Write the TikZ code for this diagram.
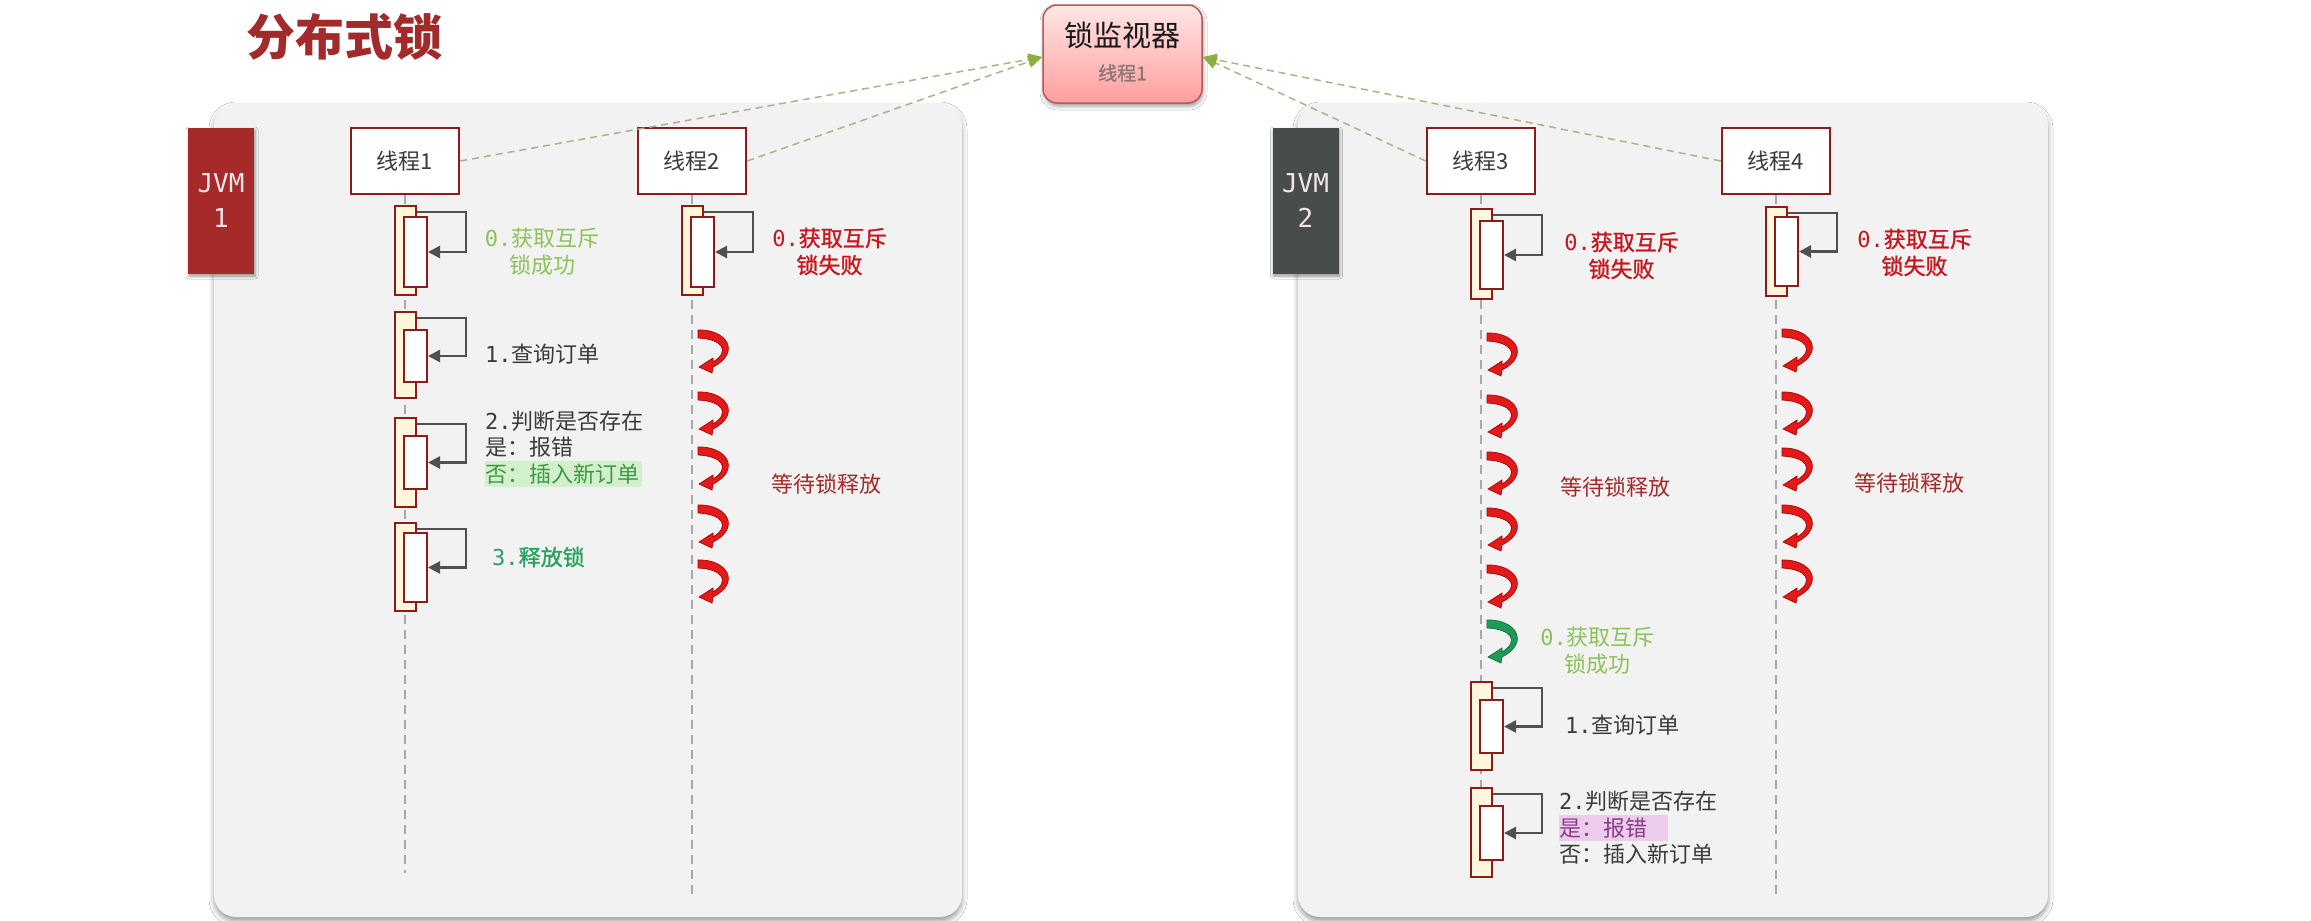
\documentclass[tikz,border=0pt]{standalone}
\usepackage{fontspec}
\setmainfont{Noto Sans CJK SC}
\newfontfamily\monofam{DejaVu Sans Mono}
\newfontfamily\medfam[FakeBold=1.2]{Noto Sans CJK SC}
\usetikzlibrary{arrows.meta,shadows.blur,calc}
\definecolor{titlered}{HTML}{A32A2A}
\definecolor{jvmred}{HTML}{A62A2A}
\definecolor{jvmgray}{HTML}{484C4B}
\definecolor{jvmtxt}{HTML}{F2E6E6}
\definecolor{tbord}{HTML}{8E1B1B}
\definecolor{cream}{HTML}{FFF6DC}
\definecolor{arrgray}{HTML}{505050}
\definecolor{lgreen}{HTML}{8DC25A}
\definecolor{redtxt}{HTML}{C8161E}
\definecolor{graytxt}{HTML}{3A3A3A}
\definecolor{tealtxt}{HTML}{2BA163}
\definecolor{waittxt}{HTML}{A32A2A}
\definecolor{hlgreen}{HTML}{D2F0CE}
\definecolor{hlgreentxt}{HTML}{3E9A3E}
\definecolor{hlpink}{HTML}{EDCBEA}
\definecolor{pinktxt}{HTML}{8A3C8A}
\definecolor{arrowgreen}{HTML}{8CB040}
\definecolor{dashcol}{HTML}{A9B586}
\definecolor{panelbg}{HTML}{F2F2F2}
\definecolor{redarr}{HTML}{E31A1A}
\definecolor{redarrdark}{HTML}{B00000}
\definecolor{greenarr}{HTML}{1F9A55}
\definecolor{greenarrdark}{HTML}{147040}
\definecolor{montop}{HTML}{FFE6E6}
\definecolor{monbot}{HTML}{FF9E9E}
\definecolor{monbord}{HTML}{B35A5A}
\definecolor{mongray}{HTML}{8C7676}
\definecolor{lifecol}{HTML}{A8A8A8}
\begin{document}
\begin{tikzpicture}[x=1pt,y=-1pt,
  panelbox/.style={fill=panelbg, rounded corners=22pt, inner sep=0,
    blur shadow={shadow xshift=0pt, shadow yshift=-4pt, shadow blur radius=5pt}},
  jvmbox/.style={minimum width=66pt, minimum height=146pt, inner sep=0, align=center,
    font=\monofam\fontsize{26}{35}\selectfont, text=jvmtxt,
    blur shadow={shadow xshift=1pt, shadow yshift=-2pt, shadow blur radius=3pt}},
  threadbox/.style={draw=tbord, line width=2.5pt, fill=white, minimum width=108pt,
    minimum height=66pt, inner sep=0, font=\fontsize{22}{26}\selectfont, text=graytxt},
  monbox/.style={rounded corners=14pt, top color=montop, bottom color=monbot, draw=monbord,
    line width=1.5pt, minimum width=159pt, minimum height=98pt, inner sep=0,
    blur shadow={shadow xshift=1pt, shadow yshift=-3pt, shadow blur radius=4pt}},
  actout/.style={draw=tbord, fill=cream, line width=2pt, minimum width=21pt, inner sep=0},
  actin/.style={draw=tbord, fill=white, line width=2pt, minimum width=23pt, inner sep=0},
  selfarr/.style={draw=arrgray, line width=2.5pt, -{Triangle[length=12pt,width=12pt]}},
  lifeline/.style={draw=lifecol, line width=1.5pt, dash pattern=on 9pt off 6pt},
  monarrow/.style={draw=dashcol, line width=1.5pt, dash pattern=on 7pt off 5pt,
    -{Triangle[length=14pt,width=12pt,color=arrowgreen]}},
  lbl/.style={inner sep=0, font=\fontsize{22}{27}\selectfont},
  lblc/.style={inner sep=0, align=center, font=\fontsize{22}{27}\selectfont},
  lblcb/.style={inner sep=0, align=center, font=\medfam\fontsize{22}{27}\selectfont},
  redbend/.style={fill=redarr, draw=redarrdark, line width=0.7pt},
  greenbend/.style={fill=greenarr, draw=greenarrdark, line width=0.7pt},
  pics/bend/.style={code={\path[pic actions] (2,0) .. controls (30,-1) and (46,22) .. (17,37)
     -- (16,43) -- (3,37) -- (17,28) -- (17,32)
     .. controls (35,21) and (26,9) .. (2,8) -- cycle;}}
]
\newcommand\actbox[6]{%
  \node[actout, minimum height=#4pt] (#1o) at (#2,#3) {};
  \node[actin, minimum height=#6pt] (#1i) at ({#2+10.5},#5) {};
  \draw[selfarr] ($(#1o.north east)+(0,7)$) -- ++(49.5,0) |- (#1i.east);
}
\useasboundingbox (0,0) rectangle (2311,921);
\fill[white] (0,0) rectangle (2311,921);

% panels
\node[panelbox, minimum width=748pt, minimum height=814pt] (p1) at (588,510) {};
\node[panelbox, minimum width=750pt, minimum height=814pt] (p2) at (1673,510) {};

% title
\node[inner sep=0, font=\fontsize{49}{55}\selectfont\bfseries, text=titlered] (title) at (344,37) {分布式锁};

% JVM boxes
\node[jvmbox, fill=jvmred] (jvm1) at (221,201) {JVM\\1};
\node[jvmbox, fill=jvmgray] (jvm2) at (1305.5,201) {JVM\\2};

% threads
\node[threadbox] (t1) at (405,161) {线程1};
\node[threadbox] (t2) at (692,161) {线程2};
\node[threadbox] (t3) at (1481,161) {线程3};
\node[threadbox] (t4) at (1776,161) {线程4};

% lock monitor
\node[monbox] (mon) at (1122.5,54) {};
\node[inner sep=0, font=\fontsize{29}{34}\selectfont, text=black!90] (monA) at (1122.5,35) {锁监视器};
\node[inner sep=0, font=\medfam\fontsize{19}{23}\selectfont, text=mongray] (monB) at (1122.5,73) {线程1};

% connectors to monitor
\draw[monarrow] (t1.east) -- ([yshift=-3pt]mon.west);
\draw[monarrow] (t2.east) -- ([yshift=-3pt]mon.west);
\draw[monarrow] (t3.west) -- ([yshift=-3pt]mon.east);
\draw[monarrow] (t4.west) -- ([yshift=-3pt]mon.east);

% lifelines
\coordinate (e1) at (405,873);
\coordinate (e2) at (692,896);
\coordinate (e3) at (1481,878);
\coordinate (e4) at (1776,900);
\draw[lifeline] (t1.south) -- (e1);
\draw[lifeline] (t2.south) -- (e2);
\draw[lifeline] (t3.south) -- (e3);
\draw[lifeline] (t4.south) -- (e4);

% activations
\actbox{a10}{405}{250.5}{89}{252}{70}
\actbox{a11}{405}{355}{86}{356}{52}
\actbox{a12}{405}{462.5}{89}{462.5}{53}
\actbox{a13}{405}{567}{88}{567.5}{69}
\actbox{a20}{692}{250.5}{89}{252}{70}
\actbox{a30}{1481}{254}{90}{255}{68}
\actbox{a31}{1481}{726}{88}{726.5}{53}
\actbox{a32}{1481}{832.5}{89}{833}{54}
\actbox{a40}{1776}{251.5}{89}{251.5}{69}

% waiting arrows
\foreach \yy in {330,392,447,505,560} {\pic[redbend] at (696,\yy) {bend};}
\foreach \yy in {333,395,452,508,565} {\pic[redbend] at (1485,\yy) {bend};}
\pic[greenbend] at (1485,620) {bend};
\foreach \yy in {329,392,448,505,560} {\pic[redbend] at (1780,\yy) {bend};}

% labels JVM1
\node[lblc, text=lgreen] (l10) at (542,251.5) {{\monofam 0.}获取互斥\\锁成功};
\node[lbl, text=graytxt, anchor=west] (l11) at (485,354) {{\monofam 1.}查询订单};
\node[lbl, text=graytxt, anchor=west] (l12a) at (485,421) {{\monofam 2.}判断是否存在};
\node[lbl, text=graytxt, anchor=west] (l12b) at (485,447) {是：报错};
\node[lbl, text=hlgreentxt, anchor=west, fill=hlgreen, inner ysep=3pt] (l12c) at (485,474) {否：插入新订单\rule{3pt}{0pt}};
\node[lbl, text=tealtxt, anchor=west, font=\medfam\fontsize{22}{27}\selectfont] (l13) at (492,557) {{\monofam 3.}释放锁};
\node[lblcb, text=redtxt] (l20) at (829.5,251.5) {{\monofam 0.}获取互斥\\锁失败};
\node[lbl, text=waittxt] (w2) at (826,484) {等待锁释放};

% labels JVM2
\node[lblcb, text=redtxt] (l30) at (1621.5,255.5) {{\monofam 0.}获取互斥\\锁失败};
\node[lblcb, text=redtxt] (l40) at (1914.5,252.5) {{\monofam 0.}获取互斥\\锁失败};
\node[lbl, text=waittxt] (w3) at (1615,487) {等待锁释放};
\node[lbl, text=waittxt] (w4) at (1909,483) {等待锁释放};
\node[lblc, text=lgreen] (g3) at (1597.5,651) {{\monofam 0.}获取互斥\\锁成功};
\node[lbl, text=graytxt, anchor=west] (l31) at (1565,725) {{\monofam 1.}查询订单};
\node[lbl, text=graytxt, anchor=west] (l32a) at (1559,801) {{\monofam 2.}判断是否存在};
\node[lbl, text=pinktxt, anchor=west, fill=hlpink, inner ysep=3pt] (l32b) at (1559,828) {是：报错\rule{21pt}{0pt}};
\node[lbl, text=graytxt, anchor=west] (l32c) at (1559,854) {否：插入新订单};
\end{tikzpicture}
\end{document}
